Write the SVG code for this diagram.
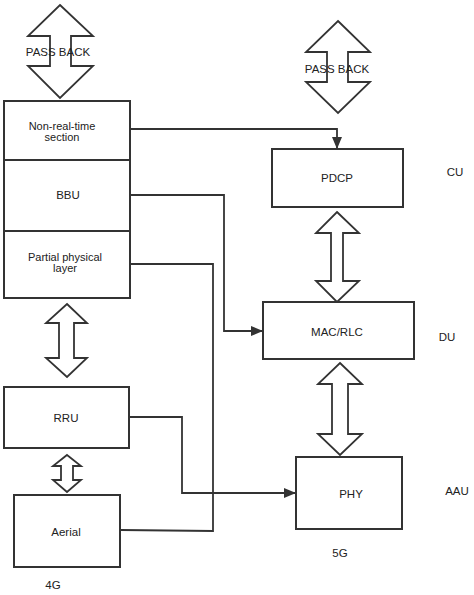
<svg xmlns="http://www.w3.org/2000/svg" width="474" height="595" viewBox="0 0 474 595">
<defs>
<marker id="ah" viewBox="0 0 12 10" refX="12" refY="5" markerWidth="13" markerHeight="10" markerUnits="userSpaceOnUse" orient="auto">
<path d="M0,0 L12,5 L0,10 Z" fill="#333"/>
</marker>
<style>
.box{fill:#fff;stroke:#333;stroke-width:2}
.dbl{fill:#fff;stroke:#333;stroke-width:1.8;stroke-linejoin:miter}
.t{font-family:"Liberation Sans",Arial,sans-serif;font-size:11.5px;fill:#222;text-anchor:middle}
.t2{font-size:11px}
.c{fill:none;stroke:#333;stroke-width:1.8}
</style>
</defs>
<rect width="474" height="595" fill="#fff"/>
<g id="passback-left">
<path class="dbl" d="M60,5 L93,36 L71,36 L71,66 L93,66 L60,98 L28,66 L50,66 L50,36 L28,36 Z"/>
<text class="t" x="58" y="56">PASS BACK</text>
</g>
<g id="passback-right">
<path class="dbl" d="M338,21 L370,52 L348,52 L348,82 L370,82 L338,113 L306,82 L327,82 L327,52 L306,52 Z"/>
<text class="t" x="337" y="73">PASS BACK</text>
</g>
<g id="nonrealtime">
<rect class="box" x="4" y="101" width="126" height="59"/>
<text class="t t2" x="62" y="130">Non-real-time</text>
<text class="t t2" x="62" y="141">section</text>
</g>
<g id="bbu">
<rect class="box" x="4" y="160" width="126" height="71"/>
<text class="t" x="68" y="199">BBU</text>
</g>
<g id="partial">
<rect class="box" x="4" y="231" width="126" height="67"/>
<text class="t t2" x="65" y="261">Partial physical</text>
<text class="t t2" x="65" y="272">layer</text>
</g>
<g id="arrow-bbu-rru">
<path class="dbl" d="M67,304 L87,323 L74,323 L74,358 L87,358 L67,377 L46,358 L59,358 L59,323 L46,323 Z"/>
</g>
<g id="rru">
<rect class="box" x="4" y="387" width="125" height="61"/>
<text class="t" x="66" y="422">RRU</text>
</g>
<g id="arrow-rru-aerial">
<path class="dbl" d="M67,455 L81,466 L73,466 L73,480 L81,480 L67,492 L53,480 L61,480 L61,466 L53,466 Z"/>
</g>
<g id="aerial">
<rect class="box" x="14" y="495" width="106" height="72"/>
<text class="t" x="66" y="536">Aerial</text>
</g>
<text class="t" x="53" y="589">4G</text>
<g id="pdcp">
<rect class="box" x="272" y="149" width="131" height="58"/>
<text class="t" x="337" y="182">PDCP</text>
</g>
<text class="t" x="455" y="176">CU</text>
<g id="arrow-pdcp-mac">
<path class="dbl" d="M337,212 L359,233 L343,233 L343,281 L359,281 L337,302 L316,281 L331,281 L331,233 L316,233 Z"/>
</g>
<g id="macrlc">
<rect class="box" x="263" y="302" width="151" height="57"/>
<text class="t" x="337" y="336">MAC/RLC</text>
</g>
<text class="t" x="447" y="341">DU</text>
<g id="arrow-mac-phy">
<path class="dbl" d="M340,363 L362,384 L348,384 L348,434 L362,434 L340,455 L318,434 L332,434 L332,384 L318,384 Z"/>
</g>
<g id="phy">
<rect class="box" x="296" y="457" width="106" height="72"/>
<text class="t" x="351" y="498">PHY</text>
</g>
<text class="t" x="457" y="495">AAU</text>
<text class="t" x="340" y="557">5G</text>
<g id="connectors">
<path class="c" d="M130,129 L337,129 L337,149" marker-end="url(#ah)"/>
<path class="c" d="M130,195 L224,195 L224,331 L263,331" marker-end="url(#ah)"/>
<path class="c" d="M130,264 L213,264 L213,531 L121,530"/>
<path class="c" d="M129,417 L182,417 L182,493 L296,493" marker-end="url(#ah)"/>
</g>
</svg>
